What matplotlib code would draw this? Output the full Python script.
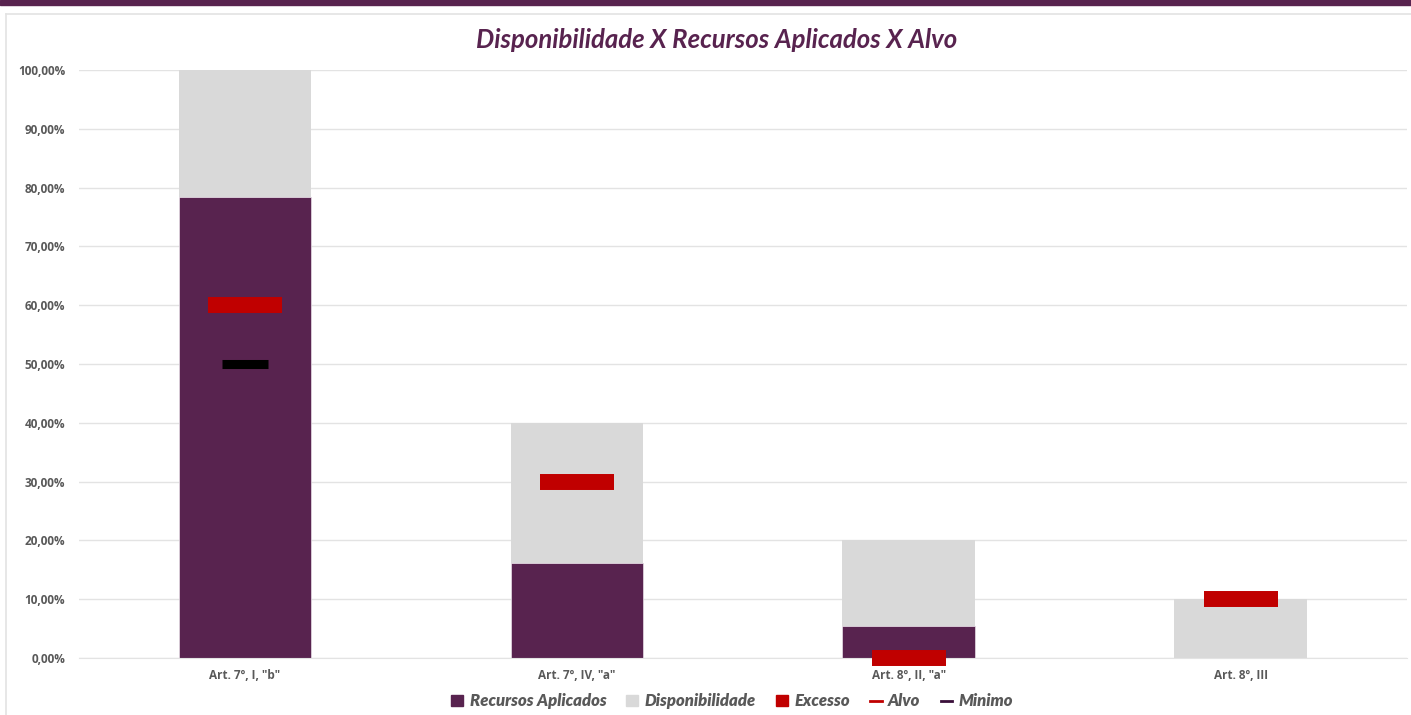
import matplotlib.pyplot as plt
from matplotlib.patches import Patch, Rectangle
from matplotlib.lines import Line2D
import numpy as np

categories = ['Art. 7º, I, "b"', 'Art. 7º, IV, "a"', 'Art. 8º, II, "a"', 'Art. 8º, III']
recursos = [0.784, 0.162, 0.054, 0.0]
limite = [1.00, 0.40, 0.20, 0.10]
alvo = [0.60, 0.30, 0.00, 0.10]
minimo = [0.50, np.nan, np.nan, np.nan]
disponibilidade = [l - r for l, r in zip(limite, recursos)]
yticks = np.arange(0, 1.01, 0.1)

roxo = '#58234F'
cinza = '#D9D9D9'
vermelho = '#C00000'
texto = '#595959'

plt.rcParams['font.family'] = ['Lato', 'DejaVu Sans']

fig = plt.figure(figsize=(14.11, 7.15), dpi=100)
ax = fig.add_axes([0.056, 0.0797, 0.941, 0.8223])

x = np.arange(len(categories))
ax.bar(x, recursos, width=0.4, color=roxo, edgecolor='#E8E0E8', linewidth=0.5, zorder=2)
ax.bar(x, disponibilidade, width=0.4, bottom=recursos, color=cinza, zorder=2)

ax.hlines(alvo, x - 0.111, x + 0.111, colors=vermelho, linewidth=11.5, zorder=3, clip_on=False)
ax.hlines(minimo, x - 0.068, x + 0.068, colors='black', linewidth=6.5, zorder=3, clip_on=False)

ax.set_xlim(-0.5, 3.5)
ax.set_ylim(0, 1.0)
ax.set_yticks(yticks)
ax.set_yticklabels([f'{v*100:.2f}%'.replace('.', ',') for v in yticks])
ax.set_xticks(x)
ax.set_xticklabels(categories)
ax.tick_params(length=0, labelsize=8.5, labelcolor=texto)
ax.tick_params(axis='y', pad=10)
ax.tick_params(axis='x', pad=8)
for lbl in ax.get_xticklabels() + ax.get_yticklabels():
    lbl.set_fontfamily(['Open Sans', 'DejaVu Sans'])
    lbl.set_fontweight('bold')
ax.grid(axis='y', color='#E3E3E3', linewidth=1, zorder=0)
ax.set_axisbelow(True)
for s in ['top', 'right', 'left']:
    ax.spines[s].set_visible(False)
ax.spines['bottom'].set_color('#E3E3E3')
ax.patch.set_alpha(0)

fig.text(0.508, 0.944, 'Disponibilidade X Recursos Aplicados X Alvo', ha='center', va='center',
         fontsize=18.5, fontweight='bold', fontstyle='italic', color=roxo)

# moldura
fig.add_artist(Rectangle((0, 1 - 4.5/715), 1, 4.5/715, transform=fig.transFigure,
                         color=roxo, zorder=0))
fig.add_artist(Line2D([6/1411, 6/1411], [0, 1 - 14/715], transform=fig.transFigure,
                      color='#E3E3E3', linewidth=1.2))
fig.add_artist(Line2D([6/1411, 1], [1 - 14/715, 1 - 14/715], transform=fig.transFigure,
                      color='#E3E3E3', linewidth=1.2))

handles = [Patch(color=roxo), Patch(color=cinza), Patch(color=vermelho),
           Line2D([], [], color=vermelho, linewidth=2),
           Line2D([], [], color='#3A0F3A', linewidth=2)]
labels = ['Recursos Aplicados', 'Disponibilidade', 'Excesso', 'Alvo', 'Minimo']
leg = fig.legend(handles, labels, loc='center', bbox_to_anchor=(0.519, 0.019), ncol=5,
                 frameon=False, handlelength=0.7, handleheight=0.7, handletextpad=0.4,
                 columnspacing=1.2, prop={'size': 12, 'weight': 'heavy', 'style': 'italic'})
for t in leg.get_texts():
    t.set_color(texto)

fig.savefig('out.png', dpi=100)
